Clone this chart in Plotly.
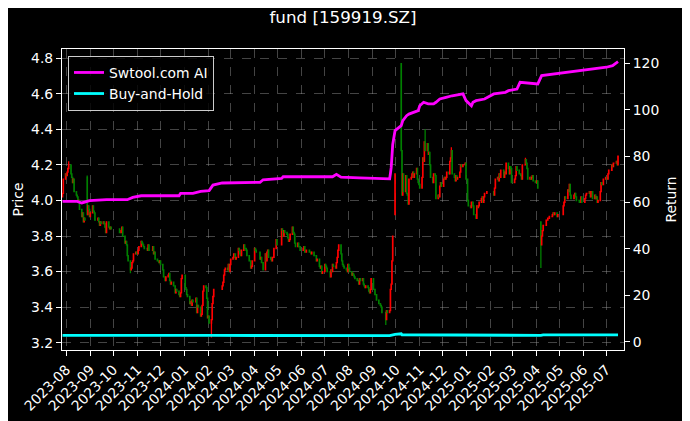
import pandas as pd
import plotly.graph_objects as go

# ---------------- data ----------------
TITLE = "fund [159919.SZ]"

# exchange holidays falling on weekdays (trading calendar)
holidays = [
    "2023-09-29", "2023-10-02", "2023-10-03", "2023-10-04", "2023-10-05", "2023-10-06",
    "2024-01-01", "2024-02-09", "2024-02-12", "2024-02-13", "2024-02-14", "2024-02-15",
    "2024-02-16", "2024-04-04", "2024-04-05", "2024-05-01", "2024-05-02", "2024-05-03",
    "2024-06-10", "2024-09-16", "2024-09-17", "2024-10-01", "2024-10-02", "2024-10-03",
    "2024-10-04", "2024-10-07",
    "2025-01-01", "2025-01-28", "2025-01-29", "2025-01-30", "2025-01-31", "2025-02-03",
    "2025-02-04", "2025-04-04", "2025-05-01", "2025-05-02", "2025-05-05", "2025-06-02",
]

# daily closes by month
c_2023_07 = [4.04, 4.12, 4.15]
c_2023_08 = [4.14, 4.16, 4.18, 4.20, 4.15, 4.13, 4.10, 4.12, 4.05, 4.03, 4.02, 3.99,
             4.00, 3.95, 3.91, 3.93, 3.88, 3.90, 3.89, 3.92, 3.97, 3.95, 3.91]
c_2023_09 = [3.93, 3.97, 3.94, 3.93, 3.89, 3.89, 3.90, 3.88, 3.86, 3.88, 3.87, 3.88,
             3.87, 3.85, 3.82, 3.88, 3.85, 3.84, 3.85, 3.84]
c_2023_10 = [3.82, 3.82, 3.83, 3.85, 3.80, 3.76, 3.77, 3.75, 3.69, 3.66, 3.61, 3.62,
             3.65, 3.66, 3.70, 3.71, 3.70]
c_2023_11 = [3.70, 3.72, 3.74, 3.77, 3.76, 3.75, 3.74, 3.73, 3.73, 3.72, 3.75, 3.72,
             3.72, 3.72, 3.74, 3.70, 3.71, 3.67, 3.66, 3.66, 3.65, 3.66]
c_2023_12 = [3.64, 3.61, 3.57, 3.57, 3.55, 3.57, 3.58, 3.59, 3.55, 3.53, 3.54, 3.52,
             3.52, 3.48, 3.50, 3.49, 3.47, 3.46, 3.48, 3.56, 3.58]
c_2024_01 = [3.51, 3.50, 3.47, 3.46, 3.42, 3.43, 3.41, 3.44, 3.43, 3.43, 3.45, 3.37,
             3.41, 3.40, 3.35, 3.36, 3.41, 3.49, 3.52, 3.51, 3.45, 3.34]
c_2024_02 = [3.35, 3.31, 3.33, 3.42, 3.46, 3.50, 3.52, 3.54, 3.58, 3.61, 3.62, 3.61,
             3.64, 3.60, 3.64]
c_2024_03 = [3.67, 3.68, 3.70, 3.70, 3.67, 3.68, 3.73, 3.72, 3.70, 3.69, 3.72, 3.75,
             3.73, 3.73, 3.72, 3.69, 3.66, 3.66, 3.62, 3.63, 3.66]
c_2024_04 = [3.73, 3.72, 3.71, 3.67, 3.68, 3.65, 3.65, 3.61, 3.70, 3.66, 3.71, 3.72,
             3.68, 3.67, 3.66, 3.68, 3.68, 3.73, 3.78, 3.75]
c_2024_05 = [3.84, 3.83, 3.80, 3.83, 3.82, 3.81, 3.79, 3.77, 3.78, 3.81, 3.85, 3.82,
             3.81, 3.76, 3.74, 3.76, 3.74, 3.74, 3.72, 3.72]
c_2024_06 = [3.73, 3.74, 3.71, 3.71, 3.72, 3.71, 3.71, 3.70, 3.71, 3.69, 3.69, 3.69,
             3.66, 3.67, 3.63, 3.62, 3.63, 3.59, 3.60]
c_2024_07 = [3.64, 3.63, 3.62, 3.60, 3.60, 3.57, 3.61, 3.60, 3.64, 3.63, 3.62, 3.65,
             3.68, 3.72, 3.75, 3.70, 3.66, 3.64, 3.63, 3.62, 3.61, 3.60, 3.64]
c_2024_08 = [3.62, 3.60, 3.58, 3.59, 3.58, 3.57, 3.56, 3.55, 3.55, 3.53, 3.56, 3.55,
             3.56, 3.53, 3.52, 3.51, 3.52, 3.51, 3.49, 3.48, 3.50, 3.56]
c_2024_09 = [3.50, 3.50, 3.47, 3.47, 3.44, 3.42, 3.42, 3.41, 3.40, 3.37, 3.33, 3.38,
             3.37, 3.38, 3.50, 3.53, 3.66, 3.80, 4.15]
c_2024_10 = [4.28, 4.03, 4.15, 4.05, 4.14, 4.04, 4.03, 3.98, 4.12, 4.13, 4.15, 4.16,
             4.13, 4.15, 4.18, 4.12, 4.10, 4.09]
c_2024_11 = [4.07, 4.13, 4.24, 4.22, 4.33, 4.28, 4.32, 4.26, 4.27, 4.20, 4.13, 4.10,
             4.15, 4.15, 4.14, 4.01, 4.03, 4.02, 4.08, 4.10, 4.08]
c_2024_12 = [4.12, 4.13, 4.12, 4.13, 4.16, 4.15, 4.22, 4.24, 4.28, 4.15, 4.13, 4.11,
             4.14, 4.12, 4.13, 4.16, 4.20, 4.19, 4.19, 4.20, 4.21, 4.12]
c_2025_01 = [4.00, 3.97, 3.96, 3.99, 3.99, 3.97, 3.92, 3.90, 3.97, 3.96, 3.97, 3.99,
             4.01, 4.02, 3.99, 4.02, 4.04, 4.05]
c_2025_02 = [4.03, 4.07, 4.12, 4.13, 4.11, 4.15, 4.13, 4.17, 4.17, 4.13, 4.16, 4.15,
             4.21, 4.18, 4.15, 4.19, 4.18, 4.10]
c_2025_03 = [4.10, 4.12, 4.14, 4.19, 4.17, 4.15, 4.15, 4.14, 4.12, 4.20, 4.20, 4.23,
             4.21, 4.18, 4.12, 4.13, 4.12, 4.13, 4.14, 4.11, 4.10]
c_2025_04 = [4.10, 4.11, 4.07, 3.75, 3.80, 3.83, 3.86, 3.86, 3.89, 3.89, 3.90, 3.90,
             3.91, 3.91, 3.92, 3.93, 3.92, 3.93, 3.91, 3.92, 3.92]
c_2025_05 = [3.97, 3.99, 4.02, 4.01, 4.06, 4.05, 4.09, 4.03, 4.01, 4.01, 4.03, 4.04,
             4.02, 4.00, 4.00, 3.99, 3.99, 4.02, 3.99]
c_2025_06 = [4.01, 4.03, 4.04, 4.04, 4.05, 4.02, 4.05, 4.05, 4.01, 4.03, 4.01, 4.02,
             3.99, 4.00, 4.05, 4.10, 4.09, 4.09, 4.12, 4.13]
c_2025_07 = [4.13, 4.12, 4.15, 4.17, 4.17, 4.20, 4.19, 4.21, 4.21, 4.22, 4.20, 4.25]

first_open = 4.02
open_override = {"2023-08-28": 4.13, "2024-09-30": 3.92, "2024-10-08": 4.77,
                 "2025-04-07": 3.88}
high_override = {"2023-08-04": 4.22, "2023-08-28": 4.14, "2024-10-08": 4.77,
                 "2024-11-08": 4.40, "2024-12-12": 4.30, "2025-03-18": 4.24}
low_override = {"2024-02-05": 3.23, "2024-09-18": 3.30, "2025-04-07": 3.62,
                "2023-10-23": 3.59}

# strategy return (right axis)
ai_dates = ["2023-07-27", "2023-08-15", "2023-08-21", "2023-08-31", "2023-09-22",
            "2023-10-19", "2023-10-26", "2023-11-06", "2023-12-25", "2023-12-27",
            "2024-01-12", "2024-01-22", "2024-02-02", "2024-02-07", "2024-02-19",
            "2024-04-08", "2024-04-12", "2024-05-06", "2024-05-08", "2024-07-11",
            "2024-07-16", "2024-07-22", "2024-08-15", "2024-09-23", "2024-09-24",
            "2024-09-25", "2024-09-26", "2024-09-27", "2024-09-30", "2024-10-08",
            "2024-10-10", "2024-10-15", "2024-10-18", "2024-10-30", "2024-11-01",
            "2024-11-06", "2024-11-12", "2024-11-19", "2024-11-22", "2024-11-27",
            "2024-12-05", "2024-12-13", "2024-12-27", "2024-12-31", "2025-01-07",
            "2025-01-09", "2025-01-13", "2025-01-24", "2025-02-05", "2025-02-20",
            "2025-02-24", "2025-03-07", "2025-03-11", "2025-04-03", "2025-04-08",
            "2025-05-12", "2025-06-18", "2025-07-01", "2025-07-09", "2025-07-16"]
ai_values = [60.5, 60.5, 59.8, 60.8, 61.2,
             61.2, 62.2, 62.9, 62.9, 63.9,
             63.9, 64.8, 65.1, 67.5, 68.4,
             68.7, 69.8, 70.4, 71.1, 71.1,
             72.1, 70.9, 70.6, 70.2, 72.5,
             75.0, 80.0, 85.0, 91.0, 93.1,
             95.3, 97.4, 98.1, 99.6, 101.7,
             103.2, 102.5, 102.5, 103.2, 104.6,
             105.3, 106.0, 106.8, 103.9, 101.7,
             103.2, 103.9, 104.6, 106.8, 107.5,
             108.2, 108.9, 111.8, 111.1, 114.7,
             116.1, 117.5, 118.3, 119.0, 120.7]

bh_dates = ["2023-07-27", "2024-02-05", "2024-02-08", "2024-09-23", "2024-09-30",
            "2024-10-08", "2024-10-09", "2025-04-07", "2025-04-10", "2025-07-16"]
bh_values = [2.7, 2.5, 2.7, 2.6, 3.2, 3.4, 3.0, 2.7, 2.9, 2.9]

price_ticks = [3.2, 3.4, 3.6, 3.8, 4.0, 4.2, 4.4, 4.6, 4.8]
return_ticks = [0, 20, 40, 60, 80, 100, 120]
month_ticks = ["2023-08", "2023-09", "2023-10", "2023-11", "2023-12", "2024-01",
               "2024-02", "2024-03", "2024-04", "2024-05", "2024-06", "2024-07",
               "2024-08", "2024-09", "2024-10", "2024-11", "2024-12", "2025-01",
               "2025-02", "2025-03", "2025-04", "2025-05", "2025-06", "2025-07"]

# ---------------- assemble candles ----------------
monthly = [c_2023_07, c_2023_08, c_2023_09, c_2023_10, c_2023_11, c_2023_12,
           c_2024_01, c_2024_02, c_2024_03, c_2024_04, c_2024_05, c_2024_06,
           c_2024_07, c_2024_08, c_2024_09, c_2024_10, c_2024_11, c_2024_12,
           c_2025_01, c_2025_02, c_2025_03, c_2025_04, c_2025_05, c_2025_06,
           c_2025_07]
bdays = pd.bdate_range("2023-07-27", "2025-07-16")
hol = set(holidays)
days = [d for d in bdays if d.strftime("%Y-%m-%d") not in hol]
by_month = {}
for d in days:
    by_month.setdefault(d.strftime("%Y-%m"), []).append(d.strftime("%Y-%m-%d"))
months = sorted(by_month)
dates, closes = [], []
for m, vals in zip(months, monthly):
    if len(by_month[m]) != len(vals):
        raise ValueError(f"{m}: {len(by_month[m])} days vs {len(vals)} values")
    dates += by_month[m]
    closes += vals

opens = [first_open] + closes[:-1]
opens = [open_override.get(d, o) for d, o in zip(dates, opens)]
highs = [high_override.get(d, max(o, c)) for d, o, c in zip(dates, opens, closes)]
lows = [low_override.get(d, min(o, c)) for d, o, c in zip(dates, opens, closes)]

# ---------------- figure ----------------
# the page body has an 8px margin, so the figure is 8px smaller than the window
W, H = 682, 413
FONT = "DejaVu Sans"
fig = go.Figure()
fig.add_trace(go.Candlestick(
    x=dates, open=opens, high=highs, low=lows, close=closes,
    increasing=dict(line=dict(color="#ff0000", width=1.3), fillcolor="#ff0000"),
    decreasing=dict(line=dict(color="#008000", width=1.3), fillcolor="#008000"),
    showlegend=False, name="price", hoverinfo="skip"))
fig.add_trace(go.Scatter(x=ai_dates, y=ai_values, yaxis="y2", mode="lines",
                         name="Swtool.com AI", line=dict(color="#ff00ff", width=2.8)))
fig.add_trace(go.Scatter(x=bh_dates, y=bh_values, yaxis="y2", mode="lines",
                         name="Buy-and-Hold", line=dict(color="#00ffff", width=2.8)))

grid = "rgba(150,150,150,0.45)"
fig.update_layout(
    template="none",
    width=W, height=H,
    paper_bgcolor="black", plot_bgcolor="black",
    margin=dict(l=54, r=66, t=41, b=71, autoexpand=False),
    font=dict(family=FONT, color="white", size=14),
    title=dict(text=TITLE, x=0.5, xref="paper", xanchor="center",
               y=1 - 9 / H, yref="container", yanchor="middle",
               font=dict(size=16.7, color="white", family=FONT)),
    hovermode=False,
    legend=dict(x=0.0107, y=0.977, xanchor="left", yanchor="top",
                bgcolor="rgba(0,0,0,0.8)", bordercolor="#cccccc", borderwidth=1,
                font=dict(size=13.9, color="white", family=FONT),
                tracegroupgap=0, itemwidth=30),
    xaxis=dict(type="date", range=["2023-07-26 08:00", "2025-07-23 18:00"],
               automargin=False,
               tickvals=[m + "-01" for m in month_ticks], ticktext=month_ticks,
               tickangle=-45, ticks="outside", ticklen=5, tickwidth=1.1,
               tickcolor="white", tickfont=dict(size=13.9, color="white"),
               showline=True, linecolor="white", linewidth=1.1, mirror=True,
               showgrid=True, gridcolor=grid, griddash="dash", gridwidth=0.8,
               zeroline=False, rangeslider=dict(visible=False)),
    yaxis=dict(range=[3.159, 4.852], tickvals=price_ticks, automargin=False,
               ticktext=[f"{v:.1f}" for v in price_ticks],
               ticks="outside", ticklen=5, tickwidth=1.1, tickcolor="white",
               tickfont=dict(size=13.9, color="white"),
               showline=True, linecolor="white", linewidth=1.1, mirror=True,
               showgrid=True, gridcolor=grid, griddash="dash", gridwidth=0.8,
               zeroline=False,
               title=dict(text="Price", font=dict(size=13.9, color="white"), standoff=4)),
    yaxis2=dict(overlaying="y", side="right", range=[-3.58, 126.16], automargin=False,
                tickvals=return_ticks, ticktext=[str(v) for v in return_ticks],
                ticks="outside", ticklen=5, tickwidth=1.1, tickcolor="white",
                tickfont=dict(size=13.9, color="white"),
                showline=False, showgrid=False, zeroline=False,
                title=dict(text="Return", font=dict(size=13.9, color="white"), standoff=7)),
)

fig.write_html("out.html")
